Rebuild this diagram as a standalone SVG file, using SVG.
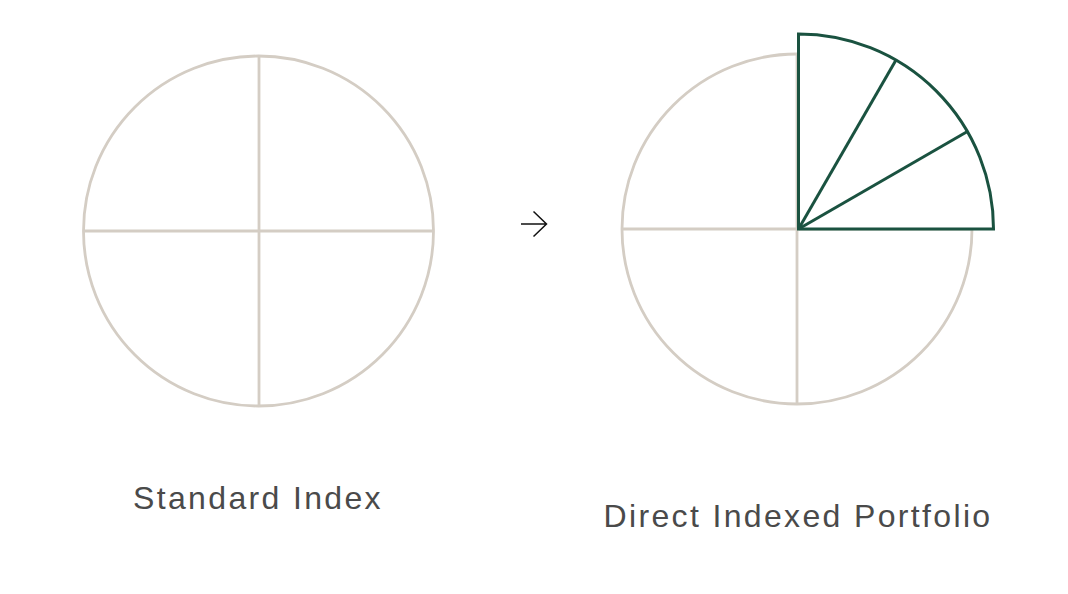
<svg xmlns="http://www.w3.org/2000/svg" width="1068" height="594" viewBox="0 0 1068 594">
<style>
.grey{fill:none;stroke:#d4cdc4;stroke-width:2.8}
.green{fill:none;stroke:#1a5240;stroke-width:3;stroke-linejoin:miter}
.wedge{fill:#ffffff;stroke:#1a5240;stroke-width:3;stroke-linejoin:miter}
.lbl{font-family:"Liberation Sans",Arial,sans-serif;font-size:32px;letter-spacing:2.35px;fill:#4a4a4a;text-anchor:middle}
</style>
<rect width="1068" height="594" fill="#ffffff"/>
<g id="standard-index">
<circle class="grey" cx="258.5" cy="231" r="175"/>
<line class="grey" x1="259" y1="56" x2="259" y2="406"/>
<line class="grey" x1="83.5" y1="231" x2="433.5" y2="231"/>
<text class="lbl" x="258" y="509">Standard Index</text>
</g>
<g id="connectors">
<path d="M521 224 H546.5 M533.5 211.5 L546.5 224 L533.5 236.5" fill="none" stroke="#111" stroke-width="1.5"/>
</g>
<g id="direct-indexed-portfolio">
<circle class="grey" cx="797" cy="229" r="175"/>
<line class="grey" x1="797" y1="54" x2="797" y2="404"/>
<line class="grey" x1="622" y1="229" x2="972" y2="229"/>
<path class="wedge" d="M798.5 229 V34 A195 195 0 0 1 993.5 229 Z"/>
<line class="green" x1="798.5" y1="229" x2="896" y2="60.1"/>
<line class="green" x1="798.5" y1="229" x2="967.4" y2="131.5"/>
<text class="lbl" x="798" y="527">Direct Indexed Portfolio</text>
</g>
</svg>
